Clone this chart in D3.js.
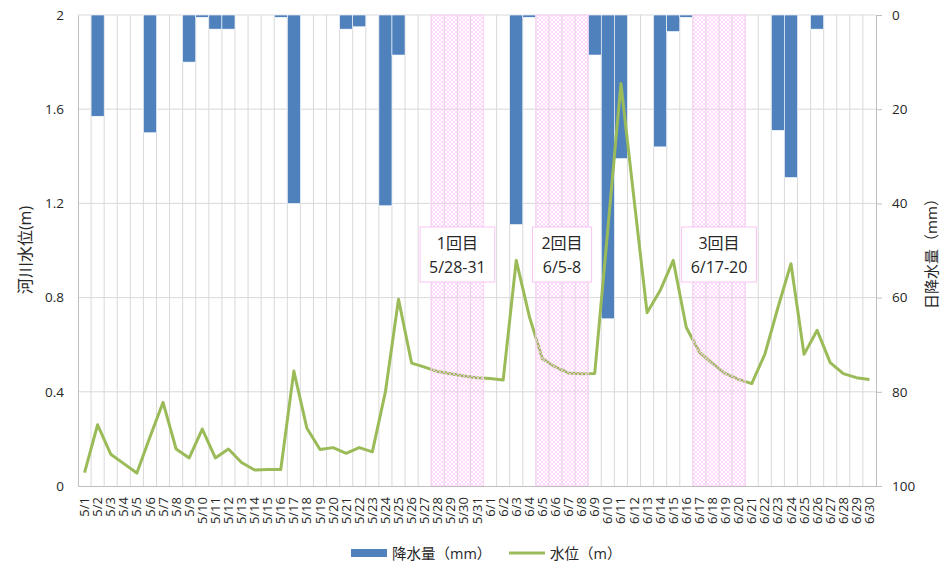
<!DOCTYPE html>
<html>
<head>
<meta charset="utf-8">
<script src="https://cdn.jsdelivr.net/npm/d3@7"></script>
<style>
  body { margin: 0; background: #fff; }
  svg text { font-family: "Open Sans", "Noto Sans CJK JP", sans-serif; fill: #262626; }
</style>
</head>
<body>
<svg id="chart" width="942" height="566"></svg>
<script>
// 日付（カテゴリ）
const dates = [
  '5/1','5/2','5/3','5/4','5/5','5/6','5/7','5/8','5/9','5/10',
  '5/11','5/12','5/13','5/14','5/15','5/16','5/17','5/18','5/19','5/20',
  '5/21','5/22','5/23','5/24','5/25','5/26','5/27','5/28','5/29','5/30','5/31',
  '6/1','6/2','6/3','6/4','6/5','6/6','6/7','6/8','6/9','6/10',
  '6/11','6/12','6/13','6/14','6/15','6/16','6/17','6/18','6/19','6/20',
  '6/21','6/22','6/23','6/24','6/25','6/26','6/27','6/28','6/29','6/30'
];

// 日降水量 (mm)
const rain = [
  0, 21.5, 0, 0, 0, 25, 0, 0, 10, 0.5,
  3, 3, 0, 0, 0, 0.5, 40, 0, 0, 0,
  3, 2.5, 0, 40.5, 8.5, 0, 0, 0, 0, 0, 0,
  0, 0, 44.5, 0.5, 0, 0, 0, 0, 8.5, 64.5,
  30.5, 0, 0, 28, 3.5, 0.5, 0, 0, 0, 0,
  0, 0, 24.5, 34.5, 0, 3, 0, 0, 0, 0
];

// 河川水位 (m)
const level = [
  0.057, 0.26, 0.135, 0.095, 0.055, 0.208, 0.355, 0.157, 0.119, 0.242,
  0.119, 0.157, 0.10, 0.068, 0.07, 0.07, 0.488, 0.245, 0.155, 0.163,
  0.139, 0.163, 0.145, 0.40, 0.793, 0.522, 0.505, 0.486, 0.477, 0.467, 0.46,
  0.456, 0.45, 0.958, 0.72, 0.54, 0.505, 0.48, 0.477, 0.478, 1.09,
  1.709, 1.22, 0.736, 0.83, 0.958, 0.673, 0.569, 0.52, 0.477, 0.453,
  0.435, 0.559, 0.757, 0.944, 0.559, 0.661, 0.524, 0.477, 0.46, 0.452
];

const levelTicks = [0, 0.4, 0.8, 1.2, 1.6, 2];
const rainTicks = [0, 20, 40, 60, 80, 100];

// 調査期間
const periods = [
  {from: '5/28', to: '5/31', title: '1回目', range: '5/28-31'},
  {from: '6/5', to: '6/8', title: '2回目', range: '6/5-8'},
  {from: '6/17', to: '6/20', title: '3回目', range: '6/17-20'},
];

const margin = {top: 15, right: 66, bottom: 80, left: 78};
const width = 942, height = 566;

const svg = d3.select('#chart');

const x = d3.scaleBand()
  .domain(dates)
  .range([margin.left, width - margin.right])
  .padding(0);

const yL = d3.scaleLinear()
  .domain([0, 2])
  .range([height - margin.bottom, margin.top]);

const yR = d3.scaleLinear()
  .domain([0, 100])
  .range([margin.top, height - margin.bottom]);

const gridColor = '#d9d9d9';
const axisColor = '#bfbfbf';

// horizontal grid
svg.append('g')
  .selectAll('line')
  .data(levelTicks.slice(1))
  .join('line')
  .attr('x1', margin.left).attr('x2', width - margin.right)
  .attr('y1', d => yL(d)).attr('y2', d => yL(d))
  .attr('stroke', gridColor);

// vertical grid (category boundaries)
svg.append('g')
  .selectAll('line')
  .data(dates.slice(1))
  .join('line')
  .attr('x1', d => x(d)).attr('x2', d => x(d))
  .attr('y1', margin.top).attr('y2', height - margin.bottom)
  .attr('stroke', gridColor);

// rain bars from top
svg.append('g')
  .selectAll('rect')
  .data(dates.map((d, i) => ({d, v: rain[i]})).filter(e => e.v > 0))
  .join('rect')
  .attr('x', e => x(e.d))
  .attr('width', x.bandwidth())
  .attr('y', yR(0))
  .attr('height', e => yR(e.v) - yR(0))
  .attr('fill', '#4f81bd')
  .attr('stroke', '#fff')
  .attr('stroke-width', 0.6);

// water level line
const line = d3.line()
  .x((d, i) => x(dates[i]) + x.bandwidth() / 2)
  .y(d => yL(d));

svg.append('path')
  .datum(level)
  .attr('fill', 'none')
  .attr('stroke', '#9bbb59')
  .attr('stroke-width', 3)
  .attr('stroke-linejoin', 'round')
  .attr('d', line);

// hatch pattern
const defs = svg.append('defs');
const pat = defs.append('pattern')
  .attr('id', 'hatch')
  .attr('patternUnits', 'userSpaceOnUse')
  .attr('width', 4).attr('height', 4);
pat.append('path')
  .attr('d', 'M0,0 L4,4 M4,0 L0,4')
  .attr('stroke', '#fbc6f6')
  .attr('stroke-width', 0.7);

svg.append('g')
  .selectAll('rect')
  .data(periods)
  .join('rect')
  .attr('x', p => x(p.from))
  .attr('width', p => x(p.to) + x.bandwidth() - x(p.from))
  .attr('y', margin.top)
  .attr('height', height - margin.bottom - margin.top)
  .attr('fill', 'url(#hatch)')
  .attr('stroke', '#fbd3f7')
  .attr('stroke-width', 1);

// labels
const boxTop = 227, boxH = 55;
periods.forEach(p => {
  const cx = (x(p.from) + x(p.to) + x.bandwidth()) / 2;
  const g = svg.append('g');
  const box = g.append('rect')
    .attr('y', boxTop).attr('height', boxH)
    .attr('fill', '#fff')
    .attr('stroke', '#f9c4f3')
    .attr('stroke-width', 1);
  const t1 = g.append('text')
    .attr('x', cx).attr('y', boxTop + 22)
    .attr('text-anchor', 'middle')
    .attr('font-size', 16)
    .text(p.title);
  const t2 = g.append('text')
    .attr('x', cx).attr('y', boxTop + 46)
    .attr('text-anchor', 'middle')
    .attr('font-size', 16)
    .text(p.range);
  const w = Math.max(t1.node().getBBox().width, t2.node().getBBox().width) + 18;
  box.attr('x', cx - w / 2).attr('width', w);
});

// left axis
const axL = svg.append('g')
  .attr('transform', `translate(${margin.left},0)`)
  .call(d3.axisLeft(yL).tickValues(levelTicks).tickSize(0).tickPadding(14)
    .tickFormat(d => d3.format('')(d)));
axL.select('.domain').attr('stroke', axisColor);
axL.selectAll('text').attr('font-size', 13.5).attr('fill', '#262626');

// right axis
const axR = svg.append('g')
  .attr('transform', `translate(${width - margin.right},0)`)
  .call(d3.axisRight(yR).tickValues(rainTicks).tickSizeOuter(0).tickSizeInner(6).tickPadding(10));
axR.select('.domain').attr('stroke', axisColor);
axR.selectAll('.tick line').attr('stroke', axisColor);
axR.selectAll('text').attr('font-size', 13.5).attr('fill', '#262626');

// bottom axis
const axB = svg.append('g')
  .attr('transform', `translate(0,${height - margin.bottom})`)
  .call(d3.axisBottom(x).tickSize(0).tickPadding(0));
axB.select('.domain').attr('stroke', axisColor);
axB.selectAll('text')
  .attr('font-size', 13)
  .attr('fill', '#262626')
  .attr('text-anchor', 'end')
  .attr('dy', '0.35em')
  .attr('transform', 'translate(0,11) rotate(-90)')
  .attr('x', 0).attr('y', 0);

// axis titles
svg.append('text')
  .attr('transform', `translate(25,250) rotate(-90)`)
  .attr('text-anchor', 'middle')
  .attr('dy', '0.35em')
  .attr('font-size', 16)
  .text('河川水位(m)');

svg.append('text')
  .attr('transform', `translate(932,250) rotate(-90)`)
  .attr('text-anchor', 'middle')
  .attr('dy', '0.35em')
  .attr('font-size', 15)
  .text('日降水量（mm）');

// legend
const lg = svg.append('g');
lg.append('rect')
  .attr('x', 351).attr('y', 549).attr('width', 36).attr('height', 8)
  .attr('fill', '#4f81bd');
lg.append('text')
  .attr('x', 392).attr('y', 559)
  .attr('font-size', 14.5)
  .text('降水量（mm）');
lg.append('line')
  .attr('x1', 509).attr('x2', 545).attr('y1', 553).attr('y2', 553)
  .attr('stroke', '#9bbb59').attr('stroke-width', 3);
lg.append('text')
  .attr('x', 550).attr('y', 559)
  .attr('font-size', 14.5)
  .text('水位（m）');
</script>
</body>
</html>
